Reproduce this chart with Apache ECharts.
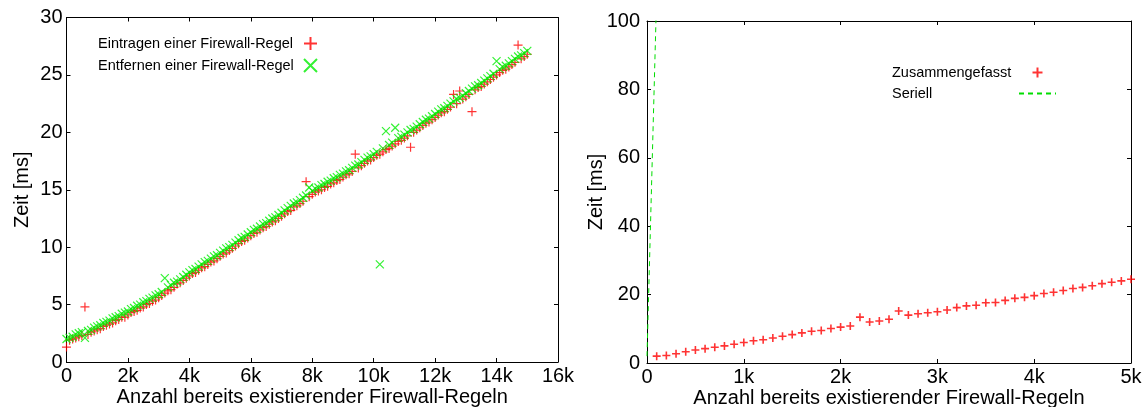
<!DOCTYPE html>
<html>
<head>
<meta charset="utf-8">
<script src="https://cdn.jsdelivr.net/npm/echarts@6/dist/echarts.min.js"></script>
<style>
html,body{margin:0;padding:0;background:#fff;}
#c{width:1142px;height:407px;}
</style>
</head>
<body>
<div id="c"></div>
<script>
// ---------- Left chart data ----------
const leftX = [
  0,100,200,300,400,500,600,700,800,900,
  1000,1100,1200,1300,1400,1500,1600,1700,1800,1900,
  2000,2100,2200,2300,2400,2500,2600,2700,2800,2900,
  3000,3100,3200,3300,3400,3500,3600,3700,3800,3900,
  4000,4100,4200,4300,4400,4500,4600,4700,4800,4900,
  5000,5100,5200,5300,5400,5500,5600,5700,5800,5900,
  6000,6100,6200,6300,6400,6500,6600,6700,6800,6900,
  7000,7100,7200,7300,7400,7500,7600,7700,7800,7900,
  8000,8100,8200,8300,8400,8500,8600,8700,8800,8900,
  9000,9100,9200,9300,9400,9500,9600,9700,9800,9900,
  10000,10100,10200,10300,10400,10500,10600,10700,10800,10900,
  11000,11100,11200,11300,11400,11500,11600,11700,11800,11900,
  12000,12100,12200,12300,12400,12500,12600,12700,12800,12900,
  13000,13100,13200,13300,13400,13500,13600,13700,13800,13900,
  14000,14100,14200,14300,14400,14500,14600,14700,14800,14900,
  15000
];
const eintragen = [
  1.3,1.9,2.0,2.1,2.2,2.3,4.8,2.4,2.6,2.7,
  2.8,2.9,3.1,3.2,3.3,3.4,3.6,3.7,3.9,3.9,
  4.1,4.3,4.4,4.5,4.7,4.8,5.0,5.1,5.3,5.4,
  5.6,5.8,6.0,6.2,6.3,6.5,6.8,6.9,7.1,7.3,
  7.5,7.7,7.8,8.0,8.2,8.3,8.5,8.7,8.8,9.0,
  9.2,9.4,9.5,9.7,9.9,10.1,10.3,10.5,10.6,10.8,
  11.0,11.2,11.3,11.5,11.7,11.8,12.0,12.2,12.3,12.5,
  12.7,12.9,13.1,13.2,13.5,13.6,13.8,14.0,15.7,14.4,
  14.6,14.8,14.9,15.0,15.2,15.3,15.5,15.6,15.8,15.9,
  16.1,16.3,16.4,16.6,18.1,16.9,17.1,17.3,17.5,17.6,
  17.8,18.0,18.1,18.3,18.5,18.6,18.8,19.0,19.2,19.3,
  19.5,19.7,18.7,20.0,20.2,20.4,20.6,20.8,20.9,21.1,
  21.3,21.5,21.7,21.8,22.0,22.2,23.3,22.5,23.6,22.9,
  23.1,23.3,21.8,23.7,23.9,24.0,24.2,24.4,24.6,24.8,
  25.0,25.2,25.4,25.5,25.7,25.9,26.1,27.6,26.4,26.6,
  26.8
];
const entfernen = [
  2.0,2.1,2.2,2.4,2.5,2.6,2.1,2.7,2.8,3.0,
  3.1,3.2,3.4,3.5,3.6,3.8,3.9,4.0,4.2,4.3,
  4.4,4.6,4.7,4.9,5.0,5.2,5.3,5.5,5.6,5.8,
  5.9,6.1,7.3,6.5,6.7,6.9,7.0,7.2,7.4,7.6,
  7.8,8.0,8.1,8.3,8.5,8.7,8.8,9.0,9.2,9.3,
  9.5,9.7,9.9,10.0,10.2,10.4,10.6,10.8,10.9,11.1,
  11.3,11.5,11.6,11.8,12.0,12.1,12.3,12.5,12.6,12.8,
  13.0,13.2,13.4,13.6,13.8,13.9,14.1,14.3,14.5,15.2,
  14.9,15.1,15.2,15.4,15.5,15.7,15.8,16.0,16.1,16.3,
  16.4,16.6,16.7,16.9,17.1,17.2,17.4,17.6,17.8,17.9,
  18.1,18.3,8.5,18.6,20.1,18.9,19.1,20.4,19.5,19.6,
  19.8,20.0,20.2,20.3,20.5,20.7,20.9,21.1,21.2,21.4,
  21.6,21.8,22.0,22.1,22.3,22.5,22.7,22.9,23.0,23.2,
  23.4,23.6,23.8,24.0,24.1,24.3,24.5,24.7,24.9,25.1,
  26.2,25.5,25.7,25.8,26.0,26.2,26.4,26.6,26.7,26.9,
  27.1
];
const leftXTicks = ['0','2k','4k','6k','8k','10k','12k','14k','16k'];

// ---------- Right chart data ----------
const rightX = [
  100,200,300,400,500,600,700,800,900,1000,
  1100,1200,1300,1400,1500,1600,1700,1800,1900,2000,
  2100,2200,2300,2400,2500,2600,2700,2800,2900,3000,
  3100,3200,3300,3400,3500,3600,3700,3800,3900,4000,
  4100,4200,4300,4400,4500,4600,4700,4800,4900,5000
];
const zusammengefasst = [
  2.0,2.2,2.7,3.3,3.8,4.2,4.6,5.0,5.5,6.0,
  6.5,6.8,7.3,7.8,8.3,8.8,9.3,9.5,10.1,10.5,
  10.8,13.4,12.0,12.3,12.8,15.2,14.0,14.4,14.7,15.0,
  15.5,16.2,16.7,16.9,17.6,17.7,18.3,18.9,19.2,19.7,
  20.3,20.7,21.2,21.8,22.1,22.6,23.2,23.6,24.0,24.5
];
const seriellX = [0, 100, 200];
const seriell = [2, 108, 215];
const rightXTicks = ['0','1k','2k','3k','4k','5k'];

// ---------- Chart ----------
const FONT = 'Liberation Sans, Arial, sans-serif';
const PLUS = 'path://M0,5L10,5M5,0L5,10';
const CROSS = 'path://M0,0L10,10M10,0L0,10';

function pairs(xs, ys){ return xs.map((x,i)=>[x, ys[i]]); }
function kFmt(labels, step){ return v => labels[Math.round(v/step)] ?? ''; }

const axisLine = {show:true, onZero:false, lineStyle:{color:'#000', width:1}};
const tick = {show:true, inside:true, length:4, lineStyle:{color:'#000'}};
const lbl = {color:'#000', fontSize:20, fontFamily:FONT};
const nameStyle = {color:'#000', fontSize:20, fontFamily:FONT};

function legendText(w){
  return {color:'#000', fontSize:14.5, fontFamily:FONT,
          rich:{t:{width:w, align:'left', fontSize:14.5, fontFamily:FONT, color:'#000', lineHeight:14}}};
}

const option = {
  backgroundColor:'#fff',
  animation:false,
  grid:[
    {left:66.5, top:17.5, width:491.5, height:344.5, containLabel:false, outerBoundsMode:'none'},
    {left:647, top:21, width:484, height:342, containLabel:false, outerBoundsMode:'none'}
  ],
  xAxis:[
    {gridIndex:0, type:'value', position:'bottom', min:0, max:16000, interval:2000,
     axisLine, axisTick:tick, splitLine:{show:false},
     axisLabel:{...lbl, margin:4, formatter:kFmt(leftXTicks,2000)},
     name:'Anzahl bereits existierender Firewall-Regeln', nameLocation:'middle', nameGap:25,
     nameMoveOverlap:false, nameTextStyle:nameStyle},
    {gridIndex:0, type:'value', position:'top', min:0, max:16000, interval:2000,
     axisLine, axisTick:tick, splitLine:{show:false}, axisLabel:{show:false}},
    {gridIndex:1, type:'value', position:'bottom', min:0, max:5000, interval:1000,
     axisLine, axisTick:tick, splitLine:{show:false},
     axisLabel:{...lbl, margin:4, formatter:kFmt(rightXTicks,1000)},
     name:'Anzahl bereits existierender Firewall-Regeln', nameLocation:'middle', nameGap:25,
     nameMoveOverlap:false, nameTextStyle:nameStyle},
    {gridIndex:1, type:'value', position:'top', min:0, max:5000, interval:1000,
     axisLine, axisTick:tick, splitLine:{show:false}, axisLabel:{show:false}}
  ],
  yAxis:[
    {gridIndex:0, type:'value', position:'left', min:0, max:30, interval:5,
     axisLine, axisTick:tick, splitLine:{show:false},
     axisLabel:{...lbl, margin:4},
     name:'Zeit [ms]', nameLocation:'middle', nameGap:34, nameMoveOverlap:false, nameTextStyle:nameStyle},
    {gridIndex:0, type:'value', position:'right', min:0, max:30, interval:5,
     axisLine, axisTick:tick, splitLine:{show:false}, axisLabel:{show:false}},
    {gridIndex:1, type:'value', position:'left', min:0, max:100, interval:20,
     axisLine, axisTick:tick, splitLine:{show:false},
     axisLabel:{...lbl, margin:7},
     name:'Zeit [ms]', nameLocation:'middle', nameGap:41, nameMoveOverlap:false, nameTextStyle:nameStyle},
    {gridIndex:1, type:'value', position:'right', min:0, max:100, interval:20,
     axisLine, axisTick:tick, splitLine:{show:false}, axisLabel:{show:false}}
  ],
  legend:[
    {orient:'vertical', left:98, top:36, padding:0, itemWidth:13, itemHeight:13, itemGap:7, align:'right',
     formatter:n => '{t|' + n + '}',
     textStyle:legendText(201),
     data:['Eintragen einer Firewall-Regel','Entfernen einer Firewall-Regel']},
    {orient:'vertical', left:892, top:65, padding:0, itemWidth:37, itemHeight:10, itemGap:6, align:'right',
     formatter:n => '{t|' + n + '}',
     textStyle:legendText(122),
     data:['Zusammengefasst', {name:'Seriell', itemStyle:{opacity:0}}]}
  ],
  series:[
    {name:'Eintragen einer Firewall-Regel', type:'scatter', xAxisIndex:0, yAxisIndex:0,
     data:pairs(leftX, eintragen), symbol:PLUS, symbolSize:9, symbolKeepAspect:true,
     itemStyle:{color:'rgba(0,0,0,0)', borderColor:'#ff0000', borderWidth:1.2}},
    {name:'Entfernen einer Firewall-Regel', type:'scatter', xAxisIndex:0, yAxisIndex:0,
     data:pairs(leftX, entfernen), symbol:CROSS, symbolSize:8, symbolKeepAspect:true,
     itemStyle:{color:'rgba(0,0,0,0)', borderColor:'#00ee00', borderWidth:1.2}},
    {name:'Zusammengefasst', type:'scatter', xAxisIndex:2, yAxisIndex:2,
     data:pairs(rightX, zusammengefasst), symbol:PLUS, symbolSize:8, symbolKeepAspect:true,
     itemStyle:{color:'rgba(0,0,0,0)', borderColor:'#ff0000', borderWidth:1.6}},
    {name:'Seriell', type:'line', xAxisIndex:2, yAxisIndex:2,
     data:pairs(seriellX, seriell), symbol:'none', clip:true,
     lineStyle:{color:'#00dd00', width:1, type:[5,4]}, itemStyle:{color:'#00dd00'}}
  ]
};

const chart = echarts.init(document.getElementById('c'), null, {renderer:'canvas'});
chart.setOption(option);
</script>
</body>
</html>
